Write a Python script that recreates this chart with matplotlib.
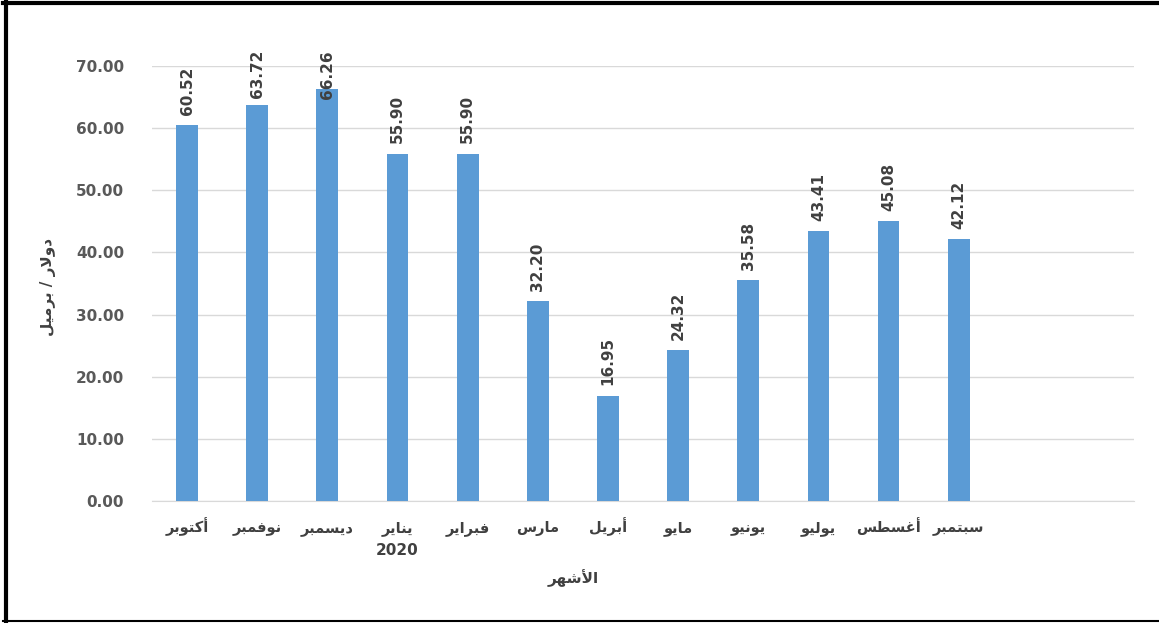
import matplotlib
matplotlib.use('Agg')
import matplotlib.pyplot as plt
from matplotlib.lines import Line2D

months = ['أكتوبر', 'نوفمبر', 'ديسمبر', 'يناير', 'فبراير', 'مارس',
          'أبريل', 'مايو', 'يونيو', 'يوليو', 'أغسطس', 'سبتمبر']
prices = [60.52, 63.72, 66.26, 55.90, 55.90, 32.20,
          16.95, 24.32, 35.58, 43.41, 45.08, 42.12]
yticks = [0, 10, 20, 30, 40, 50, 60, 70]
year_label = '2020'
year_at = 3
xlabel = 'الأشهر'
ylabel = 'دولار / برميل'

# presentation forms: isolated, final, initial, medial (None = does not join forward)
FORMS = {
    'ا': ('\uFE8D', '\uFE8E', None, None),
    'أ': ('\uFE83', '\uFE84', None, None),
    'ب': ('\uFE8F', '\uFE90', '\uFE91', '\uFE92'),
    'ت': ('\uFE95', '\uFE96', '\uFE97', '\uFE98'),
    'د': ('\uFEA9', '\uFEAA', None, None),
    'ر': ('\uFEAD', '\uFEAE', None, None),
    'س': ('\uFEB1', '\uFEB2', '\uFEB3', '\uFEB4'),
    'ش': ('\uFEB5', '\uFEB6', '\uFEB7', '\uFEB8'),
    'ط': ('\uFEC1', '\uFEC2', '\uFEC3', '\uFEC4'),
    'غ': ('\uFECD', '\uFECE', '\uFECF', '\uFED0'),
    'ف': ('\uFED1', '\uFED2', '\uFED3', '\uFED4'),
    'ك': ('\uFED9', '\uFEDA', '\uFEDB', '\uFEDC'),
    'ل': ('\uFEDD', '\uFEDE', '\uFEDF', '\uFEE0'),
    'م': ('\uFEE1', '\uFEE2', '\uFEE3', '\uFEE4'),
    'ن': ('\uFEE5', '\uFEE6', '\uFEE7', '\uFEE8'),
    'ه': ('\uFEE9', '\uFEEA', '\uFEEB', '\uFEEC'),
    'و': ('\uFEED', '\uFEEE', None, None),
    'ي': ('\uFEF1', '\uFEF2', '\uFEF3', '\uFEF4'),
    'لا': ('\uFEFB', '\uFEFC', None, None),
    'لأ': ('\uFEF7', '\uFEF8', None, None),
}


def shape(text):
    # merge lam-alef, pick joined forms, then lay out right to left
    units = []
    i = 0
    while i < len(text):
        if text[i] == 'ل' and i + 1 < len(text) and text[i + 1] in 'اأ':
            units.append(text[i:i + 2])
            i += 2
        else:
            units.append(text[i])
            i += 1
    out = []
    for k, u in enumerate(units):
        if u not in FORMS:
            out.append(u)
            continue
        prev = units[k - 1] if k > 0 else None
        nxt = units[k + 1] if k + 1 < len(units) else None
        join_prev = prev in FORMS and FORMS[prev][2] is not None
        join_next = nxt in FORMS and FORMS[u][2] is not None
        iso, fin, ini, med = FORMS[u]
        if join_prev and join_next:
            out.append(med)
        elif join_prev:
            out.append(fin)
        elif join_next:
            out.append(ini)
        else:
            out.append(iso)
    return ''.join(reversed(out))


plt.rcParams['font.family'] = ['DejaVu Sans']

fig = plt.figure(figsize=(11.59, 6.23), dpi=100)
ax = fig.add_axes([0.1311, 0.1958, 0.8474, 0.6982])

x = list(range(len(months)))
ax.bar(x, prices, width=0.31, color='#5B9BD5', zorder=3)

for xi, v in zip(x, prices):
    top = min(v + 1.7 + 7.7, 72.6)
    ax.text(xi, top, '{:.2f}'.format(v), rotation=90, ha='center', va='top',
            fontsize=11, fontweight='bold', color='#404040')

ax.set_xlim(-0.5, 13.5)
ax.set_ylim(0, 70)
ax.set_yticks(yticks)
ax.set_yticklabels(['{:.2f}'.format(t) for t in yticks], fontsize=11,
                   fontweight='bold', color='#595959')
ax.set_xticks(x)
ax.set_xticklabels([])
ax.tick_params(length=0)
ax.tick_params(axis='y', pad=20)
ax.grid(axis='y', color='#D9D9D9', linewidth=1, zorder=0)
ax.set_axisbelow(True)
for s in ['top', 'right', 'left']:
    ax.spines[s].set_visible(False)
ax.spines['bottom'].set_color('#D9D9D9')

# month names on a common baseline
for xi, m in zip(x, months):
    ax.text(xi, -0.072, shape(m), transform=ax.get_xaxis_transform(),
            ha='center', va='baseline', fontsize=10.5, fontweight='bold',
            color='#404040')

ax.text(year_at, -0.113, year_label, transform=ax.get_xaxis_transform(),
        ha='center', va='center', fontsize=11, fontweight='bold',
        color='#404040')
ax.text(5.5, -0.178, shape(xlabel), transform=ax.get_xaxis_transform(),
        ha='center', va='center', fontsize=11, fontweight='bold',
        color='#404040')
fig.text(0.041, 0.54, shape(ylabel), rotation=90, ha='center', va='center',
         fontsize=11, fontweight='bold', color='#404040')

# black frame on the top, left and bottom edges
fig.add_artist(Line2D([0.003, 1.0], [0.9955, 0.9955], color='black', lw=3,
                      transform=fig.transFigure))
fig.add_artist(Line2D([0.0052, 0.0052], [0.002, 0.998], color='black', lw=3,
                      transform=fig.transFigure))
fig.add_artist(Line2D([0.003, 1.0], [0.003, 0.003], color='black', lw=1.5,
                      transform=fig.transFigure))

fig.savefig('out.png', dpi=100)
